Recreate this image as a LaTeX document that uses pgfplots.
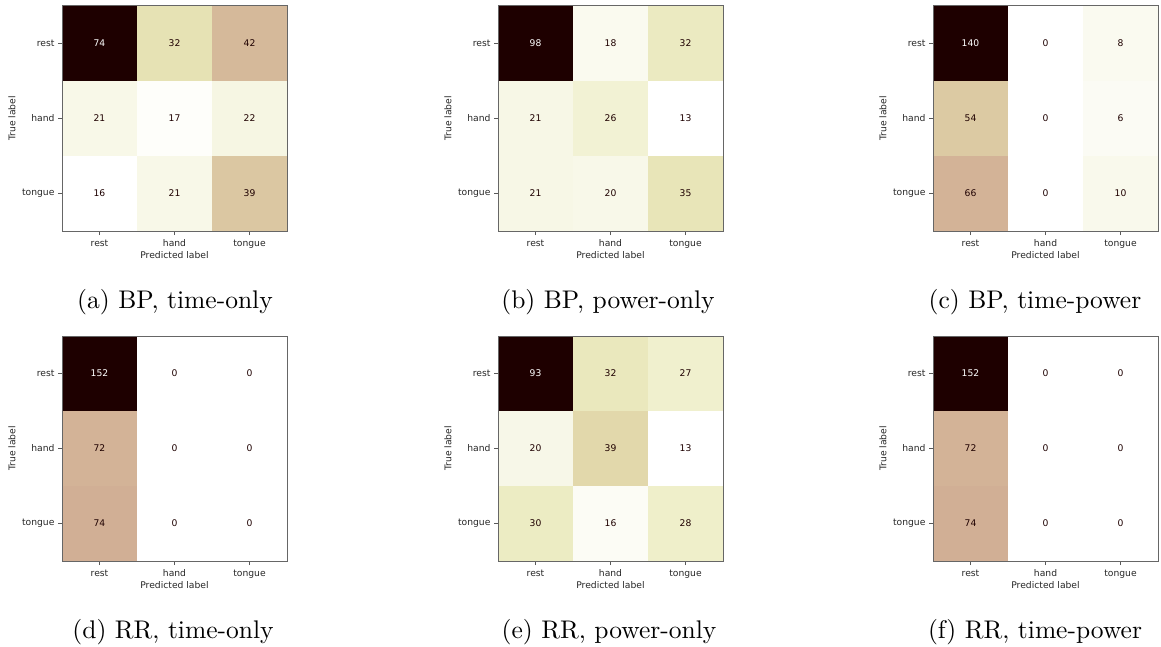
\documentclass[border=0pt]{standalone}
\usepackage{fontspec}
\usepackage{pgfplots}
\usepackage{pgfplotstable}
\pgfplotsset{compat=1.18}
\newfontfamily\dejavu{DejaVu Sans}
\newfontfamily\capfont{lmroman10-regular.otf}

\definecolor{cmdark}{rgb}{0.118,0,0}

% reversed "pink" colormap: low counts white, high counts dark maroon
\pgfplotsset{colormap={pinkr}{
  rgb=(1,1,1)
  rgb=(0.966,0.966,0.896)
  rgb=(0.931,0.931,0.777)
  rgb=(0.894,0.872,0.683)
  rgb=(0.856,0.778,0.632)
  rgb=(0.816,0.672,0.577)
  rgb=(0.775,0.545,0.516)
  rgb=(0.688,0.447,0.447)
  rgb=(0.562,0.365,0.365)
  rgb=(0.398,0.258,0.258)
  rgb=(0.118,0,0)
}}

\newcommand{\smallsans}{\dejavu\fontsize{9.2}{11}\selectfont}

\pgfplotsset{
  confmat/.style={
    scale only axis, width=225pt, height=225pt,
    xmin=-0.5, xmax=2.5, ymin=-0.5, ymax=2.5,
    y dir=reverse,
    xtick={0,1,2}, ytick={0,1,2},
    xticklabels={rest,hand,tongue},
    yticklabels={rest,hand,tongue},
    tick align=outside, tick pos=left,
    major tick length=4pt,
    every tick/.style={black!65, line width=0.8pt},
    axis line style={black!60, line width=1pt},
    ticklabel style={font=\smallsans, text=black!85},
    xticklabel style={text height=0.8em, text depth=0.2em},
    xlabel={Predicted label}, ylabel={True label},
    label style={font=\smallsans, text=black!85},
    xlabel style={at={(axis description cs:0.5,-0.107)}, anchor=center},
    ylabel style={at={(axis description cs:-0.222,0.5)}, anchor=center},
    colormap name=pinkr,
    axis on top,
    clip marker paths=true,
  },
  % one filled square per cell (cell side = 75pt), coloured by its count
  cells/.style={scatter, only marks, mark=square*, mark size=37.5pt,
    scatter src=explicit,
    scatter/use mapped color={draw=mapped color, fill=mapped color}},
  counts/.style={draw=none, mark=none,
    point meta=explicit,
    visualization depends on={\thisrow{w} \as \wflag},
    nodes near coords={\ifdim\wflag pt>0.5pt \color{white}\fi\pgfmathprintnumber[assume math mode=true]{\pgfplotspointmeta}},
    every node near coord/.append style={anchor=center, font=\smallsans, text=cmdark}},
}

% confusion matrices: x = predicted, y = true (0 rest, 1 hand, 2 tongue); w = light text
\pgfplotstableread{
x y c w
0 0 74 1
1 0 32 0
2 0 42 0
0 1 21 0
1 1 17 0
2 1 22 0
0 2 16 0
1 2 21 0
2 2 39 0
}\ta
\pgfplotstableread{
x y c w
0 0 98 1
1 0 18 0
2 0 32 0
0 1 21 0
1 1 26 0
2 1 13 0
0 2 21 0
1 2 20 0
2 2 35 0
}\tb
\pgfplotstableread{
x y c w
0 0 140 1
1 0 0 0
2 0 8 0
0 1 54 0
1 1 0 0
2 1 6 0
0 2 66 0
1 2 0 0
2 2 10 0
}\tc
\pgfplotstableread{
x y c w
0 0 152 1
1 0 0 0
2 0 0 0
0 1 72 0
1 1 0 0
2 1 0 0
0 2 74 0
1 2 0 0
2 2 0 0
}\td
\pgfplotstableread{
x y c w
0 0 93 1
1 0 32 0
2 0 27 0
0 1 20 0
1 1 39 0
2 1 13 0
0 2 30 0
1 2 16 0
2 2 28 0
}\te
\pgfplotstableread{
x y c w
0 0 152 1
1 0 0 0
2 0 0 0
0 1 72 0
1 1 0 0
2 1 0 0
0 2 74 0
1 2 0 0
2 2 0 0
}\tf

\begin{document}
\begin{tikzpicture}[x=1pt,y=1pt]
\useasboundingbox (0,0) rectangle (1161,646);

\begin{axis}[confmat, at={(62pt,640pt)}, anchor=north west]
  \addplot[cells] table[x=x,y=y,meta=c]{\ta};
  \addplot[counts] table[x=x,y=y,meta=c]{\ta};
\end{axis}
\begin{axis}[confmat, at={(498pt,640pt)}, anchor=north west]
  \addplot[cells] table[x=x,y=y,meta=c]{\tb};
  \addplot[counts] table[x=x,y=y,meta=c]{\tb};
\end{axis}
\begin{axis}[confmat, at={(933pt,640pt)}, anchor=north west]
  \addplot[cells] table[x=x,y=y,meta=c]{\tc};
  \addplot[counts] table[x=x,y=y,meta=c]{\tc};
\end{axis}
\begin{axis}[confmat, at={(62pt,310pt)}, anchor=north west]
  \addplot[cells] table[x=x,y=y,meta=c]{\td};
  \addplot[counts] table[x=x,y=y,meta=c]{\td};
\end{axis}
\begin{axis}[confmat, at={(498pt,310pt)}, anchor=north west]
  \addplot[cells] table[x=x,y=y,meta=c]{\te};
  \addplot[counts] table[x=x,y=y,meta=c]{\te};
\end{axis}
\begin{axis}[confmat, at={(933pt,310pt)}, anchor=north west]
  \addplot[cells] table[x=x,y=y,meta=c]{\tf};
  \addplot[counts] table[x=x,y=y,meta=c]{\tf};
\end{axis}

% sub-captions
\begin{scope}[every node/.style={anchor=base, inner sep=0pt, font=\capfont\fontsize{25.5}{30}\selectfont}]
  \node at (175,337.5) {(a) BP, time-only};
  \node at (608,337.5) {(b) BP, power-only};
  \node at (1035,337.5) {(c) BP, time-power};
  \node at (173,8) {(d) RR, time-only};
  \node at (609,8) {(e) RR, power-only};
  \node at (1035,8) {(f) RR, time-power};
\end{scope}
\end{tikzpicture}
\end{document}
